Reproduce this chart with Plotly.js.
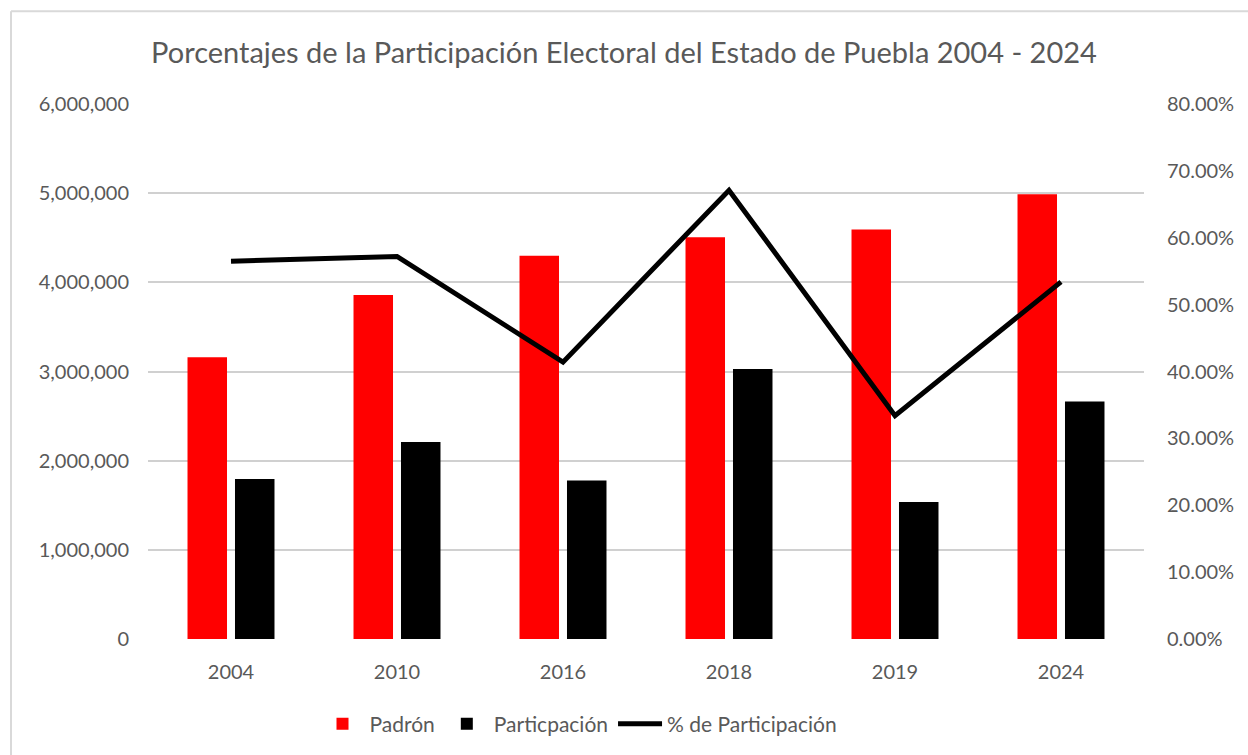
<!DOCTYPE html>
<html>
<head>
<meta charset="utf-8">
<script src="https://cdn.plot.ly/plotly-3.0.1.min.js"></script>
<style>html,body{margin:0;padding:0;background:#fff;}#chart{width:1248px;height:755px;}</style>
</head>
<body>
<div id="chart"></div>
<script>
const years = ["2004", "2010", "2016", "2018", "2019", "2024"];
const padron = [3161000, 3857000, 4297000, 4507000, 4592000, 4989000];
const participacion = [1794000, 2209000, 1778000, 3027000, 1536000, 2664000];
const pctParticipacion = [0.565, 0.572, 0.414, 0.671, 0.334, 0.534];
const leftTicks = [0, 1000000, 2000000, 3000000, 4000000, 5000000, 6000000];
const leftTickText = ["0", "1,000,000", "2,000,000", "3,000,000", "4,000,000", "5,000,000", "6,000,000"];
const rightTicks = [0, 0.1, 0.2, 0.3, 0.4, 0.5, 0.6, 0.7, 0.8];
const rightTickText = ["0.00%", "10.00%", "20.00%", "30.00%", "40.00%", "50.00%", "60.00%", "70.00%", "80.00%"];

const FONT = "Lato, 'Open Sans', sans-serif";
const GRAY = "#595959";

const traces = [
  {type: "bar", name: "Padrón", x: years, y: padron, marker: {color: "#ff0000"}, hoverinfo: "none"},
  {type: "bar", name: "Particpación", x: years, y: participacion, marker: {color: "#000000"}, hoverinfo: "none"},
  {type: "scatter", mode: "lines", name: "% de Participación", x: years, y: pctParticipacion, yaxis: "y2",
   line: {color: "#000000", width: 5}, hoverinfo: "none"}
];

const W = 996; // plot width
const px = p => (p - 148) / W;
const H = 536;
const py = p => (640 - p) / H;

const layout = {
  width: 1248, height: 755,
  margin: {l: 148, r: 104, t: 104, b: 115},
  paper_bgcolor: "#ffffff", plot_bgcolor: "#ffffff",
  font: {family: FONT, color: GRAY, size: 20},
  title: {text: "Porcentajes de la Participación Electoral del Estado de Puebla 2004 - 2024",
          font: {family: FONT, size: 29, color: GRAY}, x: 0.5, xanchor: "center", y: 0.93, yanchor: "middle", yref: "container"},
  barmode: "group", bargap: 0.428, bargroupgap: 0.168,
  showlegend: true,
  legend: {orientation: "h", x: px(579), xanchor: "center", y: py(724), yanchor: "middle",
           font: {family: FONT, size: 21, color: GRAY}, traceorder: "normal", itemwidth: 44},
  xaxis: {type: "category", showgrid: false, zeroline: false, showline: false, ticks: "",
          tickfont: {family: FONT, size: 20, color: GRAY}, ticklabelstandoff: 19},
  yaxis: {range: [0, 6000000], tickvals: leftTicks, ticktext: leftTickText, showgrid: true,
          gridcolor: "#d0d0d0", gridwidth: 2, zeroline: false, showline: false, ticks: "",
          tickfont: {family: FONT, size: 20, color: GRAY}, ticklabelstandoff: 18},
  yaxis2: {range: [0, 0.8], overlaying: "y", side: "right", tickvals: rightTicks, ticktext: rightTickText,
           showgrid: false, zeroline: false, showline: false, ticks: "",
           tickfont: {family: FONT, size: 20, color: GRAY}, ticklabelstandoff: 22},
  shapes: [
    {type: "line", xref: "paper", yref: "paper", x0: px(11), x1: px(11), y0: py(11), y1: py(760), line: {color: "#d9d9d9", width: 2}},
    {type: "line", xref: "paper", yref: "paper", x0: px(11), x1: px(1260), y0: py(11), y1: py(11), line: {color: "#d9d9d9", width: 2}}
  ]
};

Plotly.newPlot("chart", traces, layout, {displayModeBar: false, staticPlot: true});
</script>
</body>
</html>
